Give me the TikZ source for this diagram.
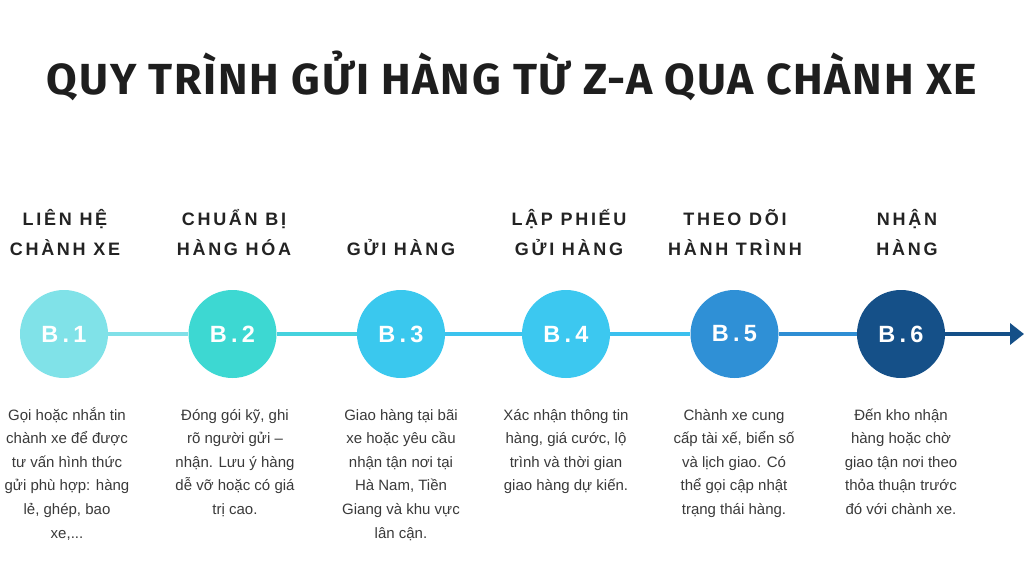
\documentclass[tikz,border=0pt]{standalone}
\usepackage{fontspec}
\usepackage{graphicx}
\usetikzlibrary{arrows.meta}
\setmainfont{Liberation Sans}
\newfontfamily\titlefont[LetterSpace=4]{Fira Sans}
\newfontfamily\headfont[LetterSpace=15]{Liberation Sans}
\newfontfamily\stepfont[LetterSpace=18]{Liberation Sans}
\definecolor{cA}{HTML}{80E2E8}
\definecolor{cB}{HTML}{3DD8D2}
\definecolor{cC}{HTML}{3AC8EE}
\definecolor{cD}{HTML}{3CC8F0}
\definecolor{cE}{HTML}{2F90D6}
\definecolor{cF}{HTML}{155088}
\definecolor{lA}{HTML}{80E0E8}
\definecolor{lB}{HTML}{45D2DE}
\definecolor{lC}{HTML}{3BC3EE}
\definecolor{lD}{HTML}{3BC0EE}
\definecolor{lE}{HTML}{2E8ED4}
\definecolor{titlecol}{HTML}{1E1E1E}
\definecolor{headcol}{HTML}{232323}
\definecolor{bodycol}{HTML}{3A3A3A}
\tikzset{
  stepcircle/.style={circle, fill=#1, minimum size=88pt, inner sep=0pt, text=white,
    font=\stepfont\bfseries\fontsize{23.5}{26}\selectfont},
  headtext/.style={anchor=base, align=center, inner sep=0pt, text=headcol,
    font=\headfont\bfseries\fontsize{18}{30}\selectfont},
  bodytext/.style={anchor=base, align=center, inner sep=0pt, text=bodycol,
    font=\fontsize{15}{23.6}\selectfont},
  seg/.style={line width=4pt, draw=#1}
}
\begin{document}
\begin{tikzpicture}[x=1pt,y=-1pt]
\useasboundingbox[fill=white] (0,0) rectangle (1024,580);
\node[anchor=base, inner sep=0pt, text=titlecol, font=\titlefont\bfseries\fontsize{43.5}{50}\selectfont] (title) at (512,95)
  {\resizebox{930pt}{\height}{QUY TRÌNH GỬI HÀNG TỪ Z-A QUA CHÀNH XE}};
% headings (base = last line)
\node[headtext] (h1) at (65,255) {LIÊN HỆ\\CHÀNH XE};
\node[headtext] (h2) at (234,255) {CHUẨN BỊ\\HÀNG HÓA};
\node[headtext] (h3) at (401,255) {GỬI HÀNG};
\node[headtext] (h4) at (569,255) {LẬP PHIẾU\\GỬI HÀNG};
\node[headtext] (h5) at (735,255) {THEO DÕI\\HÀNH TRÌNH};
\node[headtext] (h6) at (907,255) {NHẬN\\HÀNG};
% circles
\node[stepcircle=cA] (b1) at (64,334) {B.1};
\node[stepcircle=cB] (b2) at (232.5,334) {B.2};
\node[stepcircle=cC] (b3) at (401,334) {B.3};
\node[stepcircle=cD] (b4) at (566,334) {B.4};
\node[stepcircle=cE] (b5) at (734.5,334) {B.5};
\node[stepcircle=cF] (b6) at (901,334) {B.6};
\coordinate (end) at (1024,334);
% connectors
\draw[seg=lA] (b1) -- (b2);
\draw[seg=lB] (b2) -- (b3);
\draw[seg=lC] (b3) -- (b4);
\draw[seg=lD] (b4) -- (b5);
\draw[seg=lE] (b5) -- (b6);
\draw[seg=cF, -{Triangle[length=14pt,width=21pt]}] (b6) -- (end);
% body texts (base = last line; first line at 420)
\node[bodytext] (t1) at (67,538) {Gọi hoặc nhắn tin\\chành xe để được\\tư vấn hình thức\\gửi phù hợp: hàng\\lẻ, ghép, bao\\xe,...};
\node[bodytext] (t2) at (235,514.4) {Đóng gói kỹ, ghi\\rõ người gửi –\\nhận. Lưu ý hàng\\dễ vỡ hoặc có giá\\trị cao.};
\node[bodytext] (t3) at (401,538) {Giao hàng tại bãi\\xe hoặc yêu cầu\\nhận tận nơi tại\\Hà Nam, Tiền\\Giang và khu vực\\lân cận.};
\node[bodytext] (t4) at (566,490.8) {Xác nhận thông tin\\hàng, giá cước, lộ\\trình và thời gian\\giao hàng dự kiến.};
\node[bodytext] (t5) at (734,514.4) {Chành xe cung\\cấp tài xế, biển số\\và lịch giao. Có\\thể gọi cập nhật\\trạng thái hàng.};
\node[bodytext] (t6) at (901,514.4) {Đến kho nhận\\hàng hoặc chờ\\giao tận nơi theo\\thỏa thuận trước\\đó với chành xe.};
\end{tikzpicture}
\end{document}
